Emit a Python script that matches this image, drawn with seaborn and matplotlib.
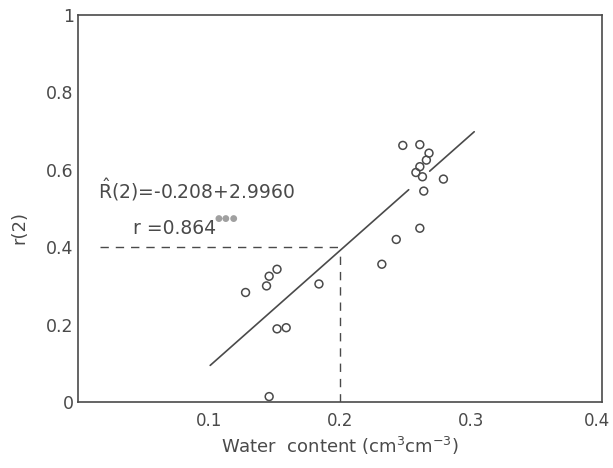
import numpy as np
import pandas as pd
import seaborn as sns
import matplotlib.pyplot as plt
from matplotlib.transforms import ScaledTranslation

# =========================
# DATA
# =========================
water = [0.128, 0.144, 0.146, 0.152, 0.152, 0.159, 0.146, 0.184,
         0.232, 0.243, 0.261, 0.248, 0.261, 0.268, 0.266, 0.261,
         0.258, 0.263, 0.264, 0.279]
r2 = [0.283, 0.300, 0.325, 0.343, 0.189, 0.192, 0.014, 0.305,
      0.356, 0.420, 0.449, 0.663, 0.665, 0.643, 0.625, 0.608,
      0.593, 0.582, 0.545, 0.576]

# fitted line R(2) = -0.208 + 2.996 * theta, drawn in two pieces (gap at the cluster)
intercept = -0.208
slope = 2.996
fit_segments = [[0.101, 0.2525], [0.2685, 0.3025]]

# reading of theta at r(2) = 0.4
guide_x = 0.2
guide_y = 0.4

x_ticks = [0.1, 0.2, 0.3, 0.4]
x_minor = [0.05, 0.15, 0.25, 0.35]
y_ticks = [0, 0.2, 0.4, 0.6, 0.8, 1]
y_ticklabels = ["0", "0.2", "0.4", "0.6", "0.8", "1"]

INK = "#4a4a4a"

# =========================
# STYLE
# =========================
sns.set_style("white")
plt.rcParams["font.family"] = ["DejaVu Sans"]
plt.rcParams["mathtext.fontset"] = "dejavusans"

fig = plt.figure(figsize=(6.13, 4.68), dpi=100)
ax = fig.add_axes([0.127, 0.141, 0.855, 0.827])

df = pd.DataFrame({"water": water, "r2": r2})

# =========================
# Fit line + guides
# =========================
for seg in fit_segments:
    seg_df = pd.DataFrame({"x": seg, "y": [intercept + slope * v for v in seg]})
    sns.lineplot(data=seg_df, x="x", y="y", ax=ax, color=INK, linewidth=1.2)

ax.plot([0.017, guide_x], [guide_y, guide_y], color=INK, linewidth=1.0,
        linestyle=(0, (6, 5)))
ax.plot([guide_x, guide_x], [0, guide_y - 0.01], color=INK, linewidth=1.0,
        linestyle=(0, (6, 5)))

# =========================
# Points
# =========================
sns.scatterplot(data=df, x="water", y="r2", ax=ax, marker="o", s=32,
                facecolor="none", edgecolor=INK, linewidth=1.1, zorder=3)

# =========================
# Annotations
# =========================
ax.text(0.0155, 0.548, r"$\hat{\mathrm{R}}$(2)=-0.208+2.9960", fontsize=13.5,
        color=INK, va="center", ha="left")
ax.text(0.042, 0.449, "r =0.864", fontsize=13.5, color=INK,
        va="center", ha="left")
ax.text(0.1045, 0.474, "\u25cf\u25cf\u25cf", fontsize=6.5, color="#a0a0a0",
        va="center", ha="left")

# =========================
# Axes
# =========================
ax.set_xlim(0, 0.4)
ax.set_ylim(0, 1)
ax.set_xticks(x_ticks)
ax.set_xticklabels([f"{v:.1f}" for v in x_ticks])
ax.set_xticks(x_minor, minor=True)
ax.set_yticks(y_ticks)
ax.set_yticklabels(y_ticklabels)

ax.tick_params(axis="x", which="both", direction="in", length=4, width=1,
               color=INK, labelcolor=INK, labelsize=12, pad=7)
ax.tick_params(axis="y", direction="in", length=6, width=1, color=INK,
               labelcolor=INK, labelsize=12.5, pad=3)

# last x label sits against the figure edge, nudge it in a little
last = ax.get_xticklabels()[-1]
last.set_transform(last.get_transform() + ScaledTranslation(-5 / 100, 0, fig.dpi_scale_trans))

for sp in ax.spines.values():
    sp.set_color(INK)
    sp.set_linewidth(1.2)

ax.set_xlabel(r"Water  content (cm$^3$cm$^{-3}$)", fontsize=13, color=INK)
ax.set_ylabel("r(2)", fontsize=13, color=INK)
ax.xaxis.set_label_coords(0.5, -0.085)
ax.yaxis.set_label_coords(-0.095, 0.45)

fig.savefig("out.png", dpi=100, facecolor="white")
